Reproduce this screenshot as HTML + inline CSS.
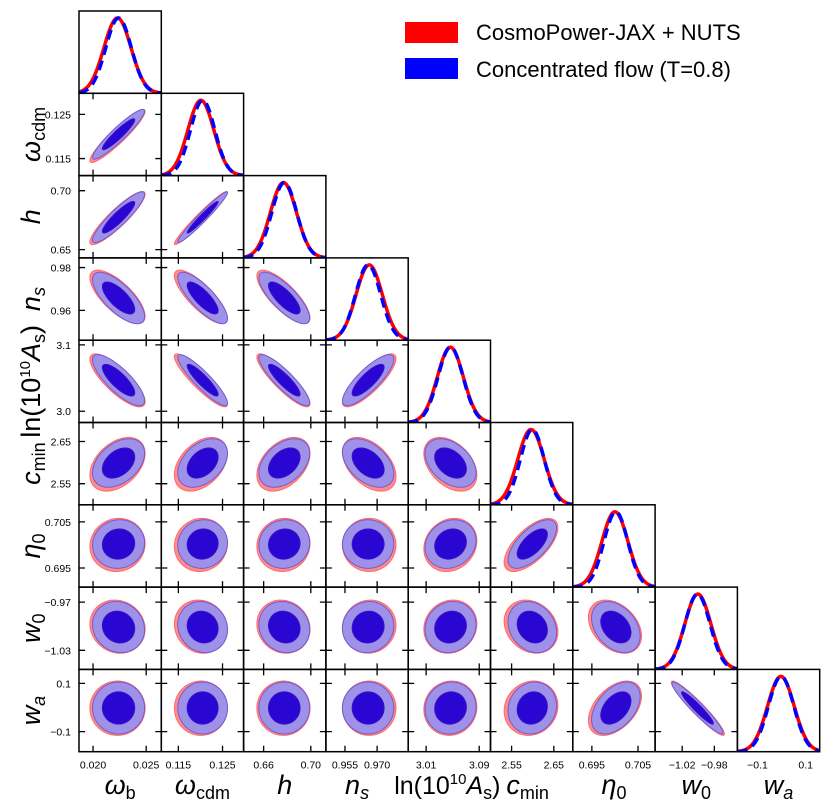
<!DOCTYPE html>
<html><head><meta charset="utf-8">
<style>
html,body{margin:0;padding:0;background:#fff;}
svg{display:block;font-family:"Liberation Sans","DejaVu Sans",sans-serif;}
</style></head>
<body>
<svg id="chart" width="831" height="809" viewBox="0 0 831 809" xmlns="http://www.w3.org/2000/svg">
  <g>
    <rect x="405" y="22" width="53" height="21" fill="#ff0000"/>
    <text x="476" y="40" font-size="22" fill="#000">CosmoPower-JAX + NUTS</text>
    <rect x="405" y="58" width="53" height="21" fill="#0000ff"/>
    <text x="476" y="77" font-size="22" fill="#000">Concentrated flow (T=0.8)</text>
  </g>
  <g id="panels"></g>
  <g id="labels"></g>
</svg>
<script>
// ---- data ----
const params = ["wb","wcdm","h","ns","lnAs","cmin","eta0","w0","wa"];
const rangeLo = [0.01868, 0.11114, 0.643, 0.9461, 2.983, 2.500, 0.69087, -1.05375, -0.1833];
const rangeHi = [0.02642, 0.12977, 0.7128, 0.9845, 3.107, 2.695, 0.7087, -0.95125, 0.158];
const meanRed = [0.02230, 0.1201, 0.6768, 0.9663, 3.0465, 2.5960, 0.7000, -1.0005, -0.003];
const meanBlue = [0.02240, 0.1205, 0.6775, 0.9658, 3.0468, 2.5990, 0.7002, -1.0010, -0.002];
const sigmaRed = [0.00106, 0.00245, 0.0092, 0.0051, 0.0163, 0.0260, 0.00235, 0.0135, 0.046];
const sigmaBlue = [0.00100, 0.00230, 0.0088, 0.0049, 0.0157, 0.0235, 0.00215, 0.0130, 0.044];
const corr = [
  [],
  [0.93],
  [0.90, 0.97],
  [-0.72, -0.80, -0.78],
  [-0.80, -0.90, -0.88, 0.82],
  [0.40, 0.40, 0.40, -0.45, -0.40],
  [0.05, 0.05, 0.05, 0.00, 0.15, 0.65],
  [-0.10, -0.10, -0.10, 0.05, 0.10, -0.20, -0.35],
  [0.00, 0.00, 0.00, 0.00, 0.05, 0.10, 0.45, -0.95]
];
const tickVals = [[0.020,0.025],[0.115,0.125],[0.66,0.70],[0.955,0.970],[3.01,3.09],[2.55,2.65],[0.695,0.705],[-1.02,-0.98],[-0.1,0.1]];
const tickText = [["0.020","0.025"],["0.115","0.125"],["0.66","0.70"],["0.955","0.970"],["3.01","3.09"],["2.55","2.65"],["0.695","0.705"],["\u22121.02","\u22120.98"],["\u22120.1","0.1"]];
const yTickVals = [[],[0.115,0.125],[0.65,0.70],[0.96,0.98],[3.0,3.1],[2.55,2.65],[0.695,0.705],[-1.03,-0.97],[-0.1,0.1]];
const yTickText = [[],["0.115","0.125"],["0.65","0.70"],["0.96","0.98"],["3.0","3.1"],["2.55","2.65"],["0.695","0.705"],["\u22121.03","\u22120.97"],["\u22120.1","0.1"]];

// ---- geometry ----
const X0 = 79, Y0 = 11, S = 82.3;
const MARG_WIDTH = 1.2;
const NS = "http://www.w3.org/2000/svg";
const panelsG = document.getElementById('panels');
const labelsG = document.getElementById('labels');
function mk(tag, attrs, parent){const e=document.createElementNS(NS,tag);for(const k in attrs)e.setAttribute(k,attrs[k]);parent.appendChild(e);return e;}
function xpix(p, v, col){return X0 + col*S + (v - rangeLo[p])/(rangeHi[p]-rangeLo[p])*S;}
function ypix(p, v, row){return Y0 + (row+1)*S - (v - rangeLo[p])/(rangeHi[p]-rangeLo[p])*S;}

const defs = mk('defs', {}, document.getElementById('chart'));
function ellipsePath(i, j, mean, sig, rho, k){
  let d = "";
  const sq = Math.sqrt(Math.max(0, 1 - rho*rho));
  for(let n=0;n<=72;n++){
    const t = n/72*2*Math.PI;
    const vx = mean[i] + k*sig[i]*Math.cos(t);
    const vy = mean[j] + k*sig[j]*(rho*Math.cos(t) + sq*Math.sin(t));
    d += (n?"L":"M") + xpix(i,vx,i).toFixed(2) + "," + ypix(j,vy,j).toFixed(2);
  }
  return d + "Z";
}

for(let row=0; row<9; row++){
  for(let col=0; col<=row; col++){
    const px = X0 + col*S, py = Y0 + row*S;
    const g = mk('g', {}, panelsG);
    
    
    const cid = 'clip'+row+'_'+col;
    const cp = mk('clipPath', {id: cid}, defs);
    mk('rect', {x:px, y:py, width:S, height:S}, cp);
    const inner = mk('g', {'clip-path':'url(#'+cid+')'}, g);
    if(col === row){
      const p = col;
      const series = [
        {m: meanRed, s: sigmaRed, stroke:'#ff0000', dash:null, name:'red'},
        {m: meanBlue, s: sigmaBlue, stroke:'#0000ff', dash:'10,6', name:'blue'}
      ];
      series.forEach(sr=>{
        let d="";
        for(let n=0;n<=120;n++){
          const v = rangeLo[p] + (rangeHi[p]-rangeLo[p])*n/120;
          const z = (v - sr.m[p])/(sr.s[p]*MARG_WIDTH);
          const f = Math.exp(-0.5*z*z);
          const x = xpix(p, v, col);
          const y = py + S - f*(S-7);
          d += (n?"L":"M") + x.toFixed(2) + "," + y.toFixed(2);
        }
        const path = mk('path', {d:d, fill:'none', stroke:sr.stroke, 'stroke-width':3.5}, inner);
        if(sr.dash) path.setAttribute('stroke-dasharray', sr.dash);
        
        
      });
    } else {
      const rho = corr[row][col];
      const layers = [
        {m: meanRed, s: sigmaRed, k: 2.45, fill:'#ff8c8c', stroke:'#ff6a6a', name:'red-95'},
        {m: meanRed, s: sigmaRed, k: 1.52, fill:'#c090d8', stroke:'none', name:'red-68'},
        {m: meanBlue, s: sigmaBlue, k: 2.45, fill:'rgba(150,146,238,0.93)', stroke:'#7858d0', name:'blue-95'},
        {m: meanBlue, s: sigmaBlue, k: 1.52, fill:'#2a06d2', stroke:'#3a10c8', name:'blue-68'}
      ];
      layers.forEach(L=>{
        const path = mk('path', {d: ellipsePath(col,row,L.m,L.s,rho,L.k), fill:L.fill, stroke:L.stroke, 'stroke-width':1}, inner);
        
        
      });
      tickVals[col].forEach(v=>{
        const x = xpix(col, v, col);
        const t1 = mk('path', {d:`M${x},${py+S}v-6M${x},${py}v6`, stroke:'#000', 'stroke-width':1.3}, g);
        
        
      });
      yTickVals[row].forEach(v=>{
        const y = ypix(row, v, row);
        const t2 = mk('path', {d:`M${px},${y}h6M${px+S},${y}h-6`, stroke:'#000', 'stroke-width':1.3}, g);
        
        
      });
    }
    const frame = mk('rect', {x:px, y:py, width:S, height:S, fill:'none', stroke:'#000', 'stroke-width':1.5}, g);
    
    
  }
}

for(let col=0; col<9; col++){
  tickVals[col].forEach((v,k)=>{
    const t = mk('text', {x:xpix(col,v,col), y:Y0+9*S+17, 'font-size':10.5, 'text-anchor':'middle', fill:'#000'}, labelsG);
    t.textContent = tickText[col][k];
    
    
  });
}
for(let row=1; row<9; row++){
  yTickVals[row].forEach((v,k)=>{
    const t = mk('text', {x:X0-8, y:ypix(row,v,row)+4, 'font-size':10.5, 'text-anchor':'end', fill:'#000'}, labelsG);
    t.textContent = yTickText[row][k];
    
    
  });
}

const xTitles = [
  ['<tspan font-style="italic">ω</tspan><tspan font-size="18" dy="5">b</tspan>', 0],
  ['<tspan font-style="italic">ω</tspan><tspan font-size="18" dy="5">cdm</tspan>', 0],
  ['<tspan font-style="italic">h</tspan>', 0],
  ['<tspan font-style="italic">n</tspan><tspan font-size="18" font-style="italic" dy="5">s</tspan>', -10],
  ['ln(10<tspan font-size="15" dy="-10">10</tspan><tspan font-style="italic" dy="10">A</tspan><tspan font-size="18" dy="5">s</tspan><tspan dy="-5">)</tspan>', -2],
  ['<tspan font-style="italic">c</tspan><tspan font-size="18" dy="5">min</tspan>', -4],
  ['<tspan font-style="italic">η</tspan><tspan font-size="18" dy="5">0</tspan>', 0],
  ['<tspan font-style="italic">w</tspan><tspan font-size="18" dy="5">0</tspan>', 0],
  ['<tspan font-style="italic">w</tspan><tspan font-size="18" font-style="italic" dy="5">a</tspan>', 0]
];
xTitles.forEach((t,col)=>{
  const e = mk('text', {x:X0+col*S+S/2+t[1], y:794, 'font-size':27, 'text-anchor':'middle', fill:'#000'}, labelsG);
  if(col===4) e.setAttribute('font-size', 25);
  e.innerHTML = t[0];
  
  
});
for(let row=1; row<9; row++){
  const cx = 40, cy = Y0 + row*S + S/2;
  const e = mk('text', {x:0, y:0, 'font-size':27, 'text-anchor':'middle', fill:'#000', transform:`translate(${cx},${cy}) rotate(-90)`}, labelsG);
  e.innerHTML = xTitles[row][0];
  
  
}
</script>
</body></html>
